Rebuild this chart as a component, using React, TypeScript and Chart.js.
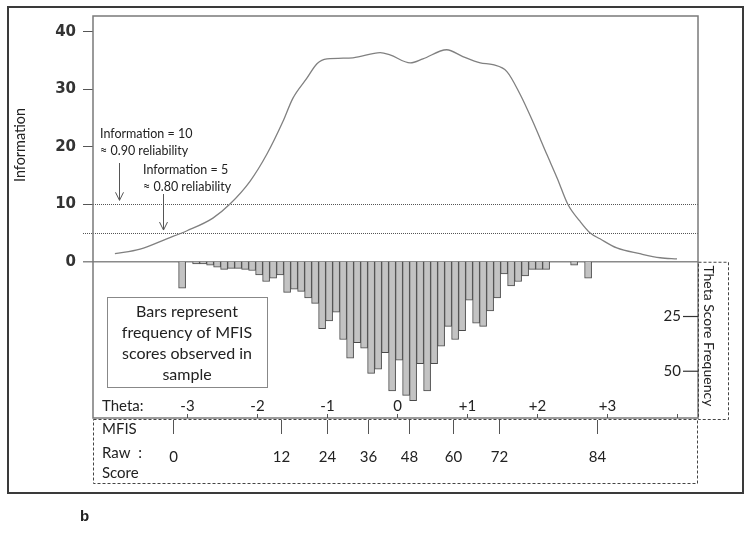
import React, { useEffect, useRef } from 'react';
import { Chart, registerables } from 'chart.js';

Chart.register(...registerables);

// ---- data ----
const infoTicks = [0, 10, 20, 30, 40];
const reliabilityLevels = [10, 5];
const freqTicks = [25, 50];
const thetaTicks = [-3, -2, -1, 0, 1, 2, 3, 4];
const thetaTickLabels = ['-3', '-2', '-1', '0', '+1', '+2', '+3', ''];
const rawScoreLabels = ['0', '12', '24', '36', '48', '60', '72', '84'];
const rawScoreThetas = [-3.2, -1.66, -1.0, -0.41, 0.17, 0.8, 1.46, 2.86];

const curveTheta = [
  -4.03, -3.67, -3.29, -3.0, -2.63, -2.39, -2.1, -1.86, -1.63, -1.49, -1.29, -1.14, -1.0,
  -0.63, -0.24, -0.1, 0.19, 0.37, 0.71, 0.94, 1.19, 1.37, 1.57, 1.76, 1.94, 2.14, 2.29,
  2.44, 2.61, 2.76, 2.9, 3.14, 3.47, 3.76, 4.0,
];
const curveInfo = [
  1.4, 2.2, 4.0, 5.4, 7.6, 10.0, 14.0, 18.7, 24.4, 28.4, 31.9, 34.5, 35.3,
  35.5, 36.4, 36.0, 34.6, 35.3, 36.9, 35.7, 34.6, 34.3, 33.1, 29.1, 24.4, 18.7, 14.5,
  10.0, 7.1, 5.0, 4.0, 2.4, 1.4, 0.7, 0.5,
];

const binTheta = [
  -3.07, -2.97, -2.87, -2.77, -2.67, -2.57, -2.47, -2.37, -2.27, -2.17,
  -2.07, -1.97, -1.87, -1.77, -1.67, -1.57, -1.47, -1.37, -1.27, -1.17,
  -1.07, -0.97, -0.87, -0.77, -0.67, -0.57, -0.47, -0.37, -0.27, -0.17,
  -0.07, 0.03, 0.13, 0.23, 0.33, 0.43, 0.53, 0.63, 0.73, 0.83,
  0.93, 1.03, 1.13, 1.23, 1.33, 1.43, 1.53, 1.63, 1.73, 1.83,
  1.93, 2.03, 2.13, 2.23, 2.33, 2.43, 2.53, 2.63, 2.73,
];
const binFreq = [
  12, 0, 1, 1, 1.5, 2.5, 3.5, 3, 3, 3.5,
  4, 6, 9, 7.5, 6, 14, 12.5, 13.5, 16.5, 19,
  30.5, 27, 23, 35.5, 44, 37, 39.5, 51, 49, 41.5,
  59, 45, 61, 63.5, 46.5, 59, 46.5, 38.5, 29.5, 35.5,
  31.5, 17.5, 28, 29.5, 22.5, 16.5, 5.5, 11, 9, 6.5,
  3.5, 3.5, 3.5, 0, 0, 0, 1.5, 0, 7.5,
];

const FONT = 'Lato, "Open Sans", sans-serif';
const TXT = '#222';

function arrow(ctx: CanvasRenderingContext2D, x: number, y1: number, y2: number) {
  ctx.beginPath();
  ctx.moveTo(x, y1);
  ctx.lineTo(x, y2);
  ctx.moveTo(x - 4, y2 - 8);
  ctx.lineTo(x, y2);
  ctx.lineTo(x + 4, y2 - 8);
  ctx.stroke();
}

const overlay = {
  id: 'overlay',
  beforeDatasetsDraw(chart: any) {
    const { ctx, chartArea: a, scales } = chart;
    const y = scales.y;
    ctx.save();
    ctx.strokeStyle = '#555';
    ctx.lineWidth = 1;
    ctx.setLineDash([1, 1]);
    reliabilityLevels.forEach((v) => {
      const py = Math.round(y.getPixelForValue(v)) + 0.5;
      ctx.beginPath();
      ctx.moveTo(83, py);
      ctx.lineTo(a.right, py);
      ctx.stroke();
    });
    ctx.setLineDash([]);
    ctx.strokeStyle = '#8a8a8a';
    ctx.lineWidth = 1.5;
    const p0 = y.getPixelForValue(0);
    ctx.beginPath();
    ctx.moveTo(83, p0);
    ctx.lineTo(a.right, p0);
    ctx.stroke();
    ctx.restore();
  },
  afterDraw(chart: any) {
    const { ctx, chartArea: a, scales } = chart;
    const x = scales.x, y = scales.y, y2 = scales.y2;
    ctx.save();

    // inner frame
    ctx.strokeStyle = '#7a7a7a';
    ctx.lineWidth = 1.5;
    ctx.strokeRect(a.left, a.top, a.right - a.left, a.bottom - a.top);

    // outer frame
    ctx.strokeStyle = '#3a3a3a';
    ctx.lineWidth = 2;
    ctx.strokeRect(8, 7, 735, 486);

    const zeroY = y.getPixelForValue(0);

    // dashed boxes
    ctx.strokeStyle = '#444';
    ctx.lineWidth = 1;
    ctx.setLineDash([3, 2]);
    ctx.strokeRect(a.right + 0.5, zeroY + 0.5, 30, a.bottom - zeroY + 1);
    ctx.strokeRect(a.left + 0.5, a.bottom + 1.5, a.right - a.left - 1, 64);
    ctx.setLineDash([]);

    // frequency ticks (right)
    ctx.fillStyle = TXT;
    ctx.font = `15px ${FONT}`;
    ctx.textAlign = 'right';
    ctx.textBaseline = 'middle';
    ctx.strokeStyle = '#333';
    ctx.lineWidth = 1.2;
    freqTicks.forEach((v) => {
      const py = y2.getPixelForValue(v);
      ctx.beginPath();
      ctx.moveTo(a.right - 15, py);
      ctx.lineTo(a.right, py);
      ctx.stroke();
      ctx.fillText(String(v), a.right - 17, py);
    });

    // Theta Score Frequency
    ctx.save();
    ctx.translate(709, (zeroY + a.bottom) / 2 - 4);
    ctx.rotate(Math.PI / 2);
    ctx.textAlign = 'center';
    ctx.font = `14px ${FONT}`;
    ctx.fillText('Theta Score Frequency', 0, 0);
    ctx.restore();

    // theta axis labels
    ctx.font = `15px ${FONT}`;
    ctx.textAlign = 'center';
    ctx.strokeStyle = '#555';
    ctx.lineWidth = 1;
    thetaTicks.forEach((t, i) => {
      const px = Math.round(x.getPixelForValue(t)) + 0.5;
      ctx.beginPath();
      ctx.moveTo(px, a.bottom - 4);
      ctx.lineTo(px, a.bottom);
      ctx.stroke();
      if (thetaTickLabels[i]) ctx.fillText(thetaTickLabels[i], px, 406);
    });
    ctx.textAlign = 'left';
    ctx.fillText('Theta:', 102, 406);

    // raw score ticks
    ctx.strokeStyle = '#555';
    rawScoreThetas.forEach((t, i) => {
      const px = Math.round(x.getPixelForValue(t)) + 0.5;
      ctx.beginPath();
      ctx.moveTo(px, a.bottom + 2);
      ctx.lineTo(px, a.bottom + 16);
      ctx.stroke();
      ctx.textAlign = 'center';
      ctx.fillText(rawScoreLabels[i], px, 457);
    });
    ctx.textAlign = 'left';
    ctx.fillText('MFIS', 102, 429);
    ctx.fillText('Raw  :', 102, 453);
    ctx.fillText('Score', 102, 473);

    // reliability annotations
    ctx.font = `12.5px ${FONT}`;
    ctx.fillText('Information = 10', 100, 134);
    ctx.fillText('\u2248 0.90 reliability', 100, 151);
    ctx.fillText('Information = 5', 143, 170);
    ctx.fillText('\u2248 0.80 reliability', 143, 187);
    ctx.strokeStyle = '#555';
    ctx.lineWidth = 1;
    arrow(ctx, 119.5, 163, y.getPixelForValue(10) - 4);
    arrow(ctx, 163.5, 194, y.getPixelForValue(5) - 3);

    // text box
    ctx.fillStyle = '#fff';
    ctx.fillRect(107.5, 297.5, 160, 90);
    ctx.strokeStyle = '#888';
    ctx.strokeRect(107.5, 297.5, 160, 90);
    ctx.fillStyle = TXT;
    ctx.font = `16px ${FONT}`;
    ctx.textAlign = 'center';
    ['Bars represent', 'frequency of MFIS', 'scores observed in', 'sample'].forEach((s, i) => {
      ctx.fillText(s, 187, 312 + i * 21);
    });

    // y-axis title
    ctx.save();
    ctx.translate(20, 145);
    ctx.rotate(-Math.PI / 2);
    ctx.font = `16px ${FONT}`;
    ctx.textAlign = 'center';
    ctx.fillText('Information', 0, 0, 74);
    ctx.restore();

    // panel letter
    ctx.font = 'bold 15px "Liberation Sans", Arial, sans-serif';
    ctx.textAlign = 'left';
    ctx.fillText('b', 80, 517);

    ctx.restore();
  },
};

export default function App() {
  const ref = useRef<HTMLCanvasElement>(null);
  useEffect(() => {
    document.body.style.margin = '0';
    const chart = new Chart(ref.current as HTMLCanvasElement, {
      type: 'bar',
      data: {
        datasets: [
          {
            type: 'line',
            label: 'Information',
            data: curveTheta.map((t, i) => ({ x: t, y: curveInfo[i] })),
            yAxisID: 'y',
            borderColor: '#808080',
            borderWidth: 1.3,
            pointRadius: 0,
            cubicInterpolationMode: 'monotone',
            fill: false,
            order: 0,
          } as any,
          {
            type: 'bar',
            label: 'Theta score frequency',
            data: binTheta.map((t, i) => ({ x: t, y: binFreq[i] })),
            yAxisID: 'y2',
            backgroundColor: '#c3c3c3',
            borderColor: '#4a4a4a',
            borderWidth: 1,
            barPercentage: 1,
            categoryPercentage: 1,
            order: 1,
          } as any,
        ],
      },
      options: {
        responsive: false,
        animation: false,
        layout: { padding: { left: 0, top: 14, right: 52, bottom: 118 } },
        plugins: { legend: { display: false }, tooltip: { enabled: false } },
        scales: {
          x: { type: 'linear', min: -4.343, max: 4.3, offset: false, display: false },
          y: {
            type: 'linear',
            position: 'left',
            min: -27.19,
            max: 42.77,
            afterBuildTicks: (s: any) => {
              s.ticks = infoTicks.map((v) => ({ value: v }));
            },
            afterFit: (s: any) => {
              s.width = 93;
            },
            grid: { drawOnChartArea: false, drawTicks: true, tickLength: 10, color: '#555', lineWidth: 1 },
            border: { display: false },
            ticks: {
              font: { family: '"DejaVu Sans", Verdana, sans-serif', size: 15, weight: 'bold' },
              color: '#333',
              padding: 7,
            },
          },
          y2: {
            type: 'linear',
            position: 'right',
            reverse: true,
            min: -112.27,
            max: 71.36,
            display: false,
          },
        },
      } as any,
      plugins: [overlay],
    });
    return () => chart.destroy();
  }, []);
  return <canvas ref={ref} width={750} height={536} style={{ display: 'block' }} />;
}
